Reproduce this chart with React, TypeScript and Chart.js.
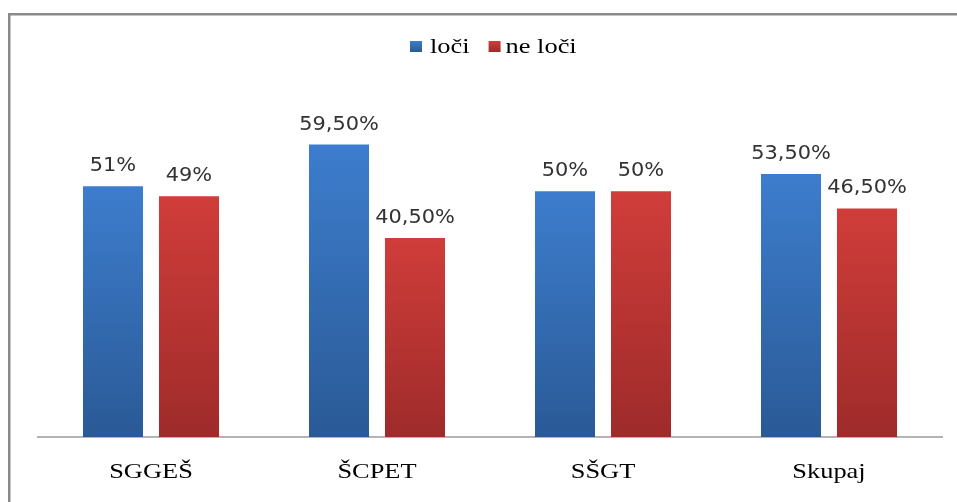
import { useEffect, useRef } from "react";
import { Chart, registerables } from "chart.js";

Chart.register(...registerables);

const categories = ["SGGEŠ", "ŠCPET", "SŠGT", "Skupaj"];
const seriesNames = ["loči", "ne loči"];
const lociValues = [51, 59.5, 50, 53.5];
const neLociValues = [49, 40.5, 50, 46.5];

const formatPct = (v: number) =>
  Number.isInteger(v) ? `${v}%` : `${v.toFixed(2).replace(".", ",")}%`;

const BLUE_TOP = "#3d7dcd";
const BLUE_BOTTOM = "#2a5a96";
const RED_TOP = "#d03d3a";
const RED_BOTTOM = "#9e2b2a";

const SERIF = '"Liberation Serif", "Times New Roman", serif';
const SANS = '"DejaVu Sans", Verdana, sans-serif';

function stretchedText(
  ctx: CanvasRenderingContext2D,
  text: string,
  x: number,
  y: number,
  sx: number,
  align: "left" | "center"
) {
  ctx.save();
  ctx.translate(x, y);
  ctx.scale(sx, 1);
  ctx.textAlign = align;
  ctx.textBaseline = "alphabetic";
  ctx.fillText(text, 0, 0);
  ctx.restore();
}

function barGradient(chart: any, dataIndex: number, datasetIndex: number, top: string, bottom: string) {
  const y = chart.scales?.y;
  const area = chart.chartArea;
  if (!y || !area) return top;
  const data = chart.data.datasets[datasetIndex].data as number[];
  const v = data[dataIndex];
  const yTop = y.getPixelForValue(v);
  const yBottom = y.getPixelForValue(0);
  if (!isFinite(yTop) || !isFinite(yBottom) || yTop === yBottom) return top;
  const g = chart.ctx.createLinearGradient(0, yTop, 0, yBottom);
  g.addColorStop(0, top);
  g.addColorStop(1, bottom);
  return g;
}

const decorPlugin = {
  id: "decor",
  beforeDraw(chart: any) {
    const ctx = chart.ctx as CanvasRenderingContext2D;
    ctx.save();
    ctx.fillStyle = "#ffffff";
    ctx.fillRect(0, 0, chart.width, chart.height);
    // outer frame (clipped at right and bottom)
    ctx.fillStyle = "#8a8a8a";
    ctx.fillRect(8, 13, chart.width - 8, 2.5);
    ctx.fillRect(8, 13, 2.5, chart.height - 13);
    ctx.restore();
  },
  afterDatasetsDraw(chart: any) {
    const ctx = chart.ctx as CanvasRenderingContext2D;
    ctx.save();
    // value labels
    ctx.font = `19px ${SANS}`;
    ctx.fillStyle = "#333333";
    chart.data.datasets.forEach((ds: any, di: number) => {
      const meta = chart.getDatasetMeta(di);
      meta.data.forEach((bar: any, i: number) => {
        stretchedText(ctx, formatPct(ds.data[i]), bar.x, bar.y - 15, 1.1, "center");
      });
    });
    // category labels
    const xs = chart.scales.x;
    ctx.font = `22px ${SERIF}`;
    ctx.fillStyle = "#000000";
    categories.forEach((c, i) => {
      stretchedText(ctx, c, xs.getPixelForValue(i), 478, 1.2, "center");
    });
    // legend
    const sx = 1.2;
    const colors = [
      [BLUE_TOP, BLUE_BOTTOM],
      [RED_TOP, RED_BOTTOM],
    ];
    ctx.font = `22px ${SERIF}`;
    let x = 410;
    seriesNames.forEach((name, i) => {
      const g = ctx.createLinearGradient(0, 41, 0, 52);
      g.addColorStop(0, colors[i][0]);
      g.addColorStop(1, colors[i][1]);
      ctx.fillStyle = g;
      ctx.fillRect(x, 41, 12, 11);
      x += 12 + (i === 0 ? 8 : 5);
      ctx.fillStyle = "#000000";
      stretchedText(ctx, name, x, 53, sx, "left");
      x += ctx.measureText(name).width * sx + 19;
    });
    ctx.restore();
  },
};

export default function App() {
  const ref = useRef<HTMLCanvasElement | null>(null);

  useEffect(() => {
    document.body.style.margin = "0";
    document.body.style.overflow = "hidden";
    document.documentElement.style.overflow = "hidden";
    const canvas = ref.current;
    if (!canvas) return;
    const chart = new Chart(canvas, {
      type: "bar",
      data: {
        labels: categories,
        datasets: [
          {
            label: seriesNames[0],
            data: lociValues,
            backgroundColor: (c: any) => barGradient(c.chart, c.dataIndex, c.datasetIndex, BLUE_TOP, BLUE_BOTTOM),
            borderWidth: 0,
            barPercentage: 0.79,
            categoryPercentage: 0.6726,
          },
          {
            label: seriesNames[1],
            data: neLociValues,
            backgroundColor: (c: any) => barGradient(c.chart, c.dataIndex, c.datasetIndex, RED_TOP, RED_BOTTOM),
            borderWidth: 0,
            barPercentage: 0.79,
            categoryPercentage: 0.6726,
          },
        ],
      },
      options: {
        animation: false,
        responsive: false,
        maintainAspectRatio: false,
        layout: { padding: { top: 93, left: 38, right: 15, bottom: 0 } },
        plugins: {
          legend: { display: false },
          tooltip: { enabled: false },
        },
        scales: {
          x: {
            ticks: { display: false },
            grid: { display: false },
            border: { display: true, color: "#b4b4b4", width: 2 },
            afterFit: (scale: any) => {
              scale.height = 65;
            },
          },
          y: {
            display: false,
            min: 0,
            max: 70,
          },
        },
      },
      plugins: [decorPlugin],
    });
    return () => chart.destroy();
  }, []);

  return (
    <canvas
      ref={ref}
      width={957}
      height={502}
      style={{ display: "block", width: "957px", height: "502px" }}
    />
  );
}
